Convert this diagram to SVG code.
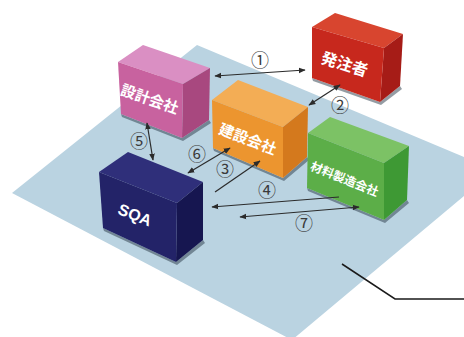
<svg xmlns="http://www.w3.org/2000/svg" width="464" height="337" viewBox="0 0 464 337">
<defs>
<marker id="ah" viewBox="0 0 10 10" refX="9" refY="5" markerWidth="7" markerHeight="7" orient="auto-start-reverse" markerUnits="userSpaceOnUse">
<path d="M0,1 L10,5 L0,9 z" fill="#2b2b2b"/>
</marker>
<style>
.lbl{font-family:"Noto Sans CJK JP","Noto Sans CJK SC",sans-serif;fill:#fff;font-weight:bold;text-anchor:middle;dominant-baseline:central}
.num{font-family:"Noto Sans CJK JP","DejaVu Sans",sans-serif;fill:#3a3a3a;font-size:18px;text-anchor:middle;dominant-baseline:central}
.con{stroke:#2b2b2b;stroke-width:1.2;fill:none}
.shadow{fill:#2a3a48;opacity:0.5}
</style>
</defs>
<rect width="464" height="337" fill="#ffffff"/>
<polygon points="197,45 495,170 292,340 12,193" fill="#bad3e1"/>
<polyline points="342,264 395,299 464,299" stroke="#1a1a1a" stroke-width="1.5" fill="none"/>

<g id="hacchusha">
<polygon class="shadow" points="312,78 380,102 400,86 402,89 381,105 313,81"/>
<polygon points="312,27 335,13 403,34 384,48" fill="#d8452f"/>
<polygon points="384,48 403,34 400,86 380,102" fill="#a61c17"/>
<polygon points="312,27 384,48 380,102 312,78" fill="#c7281d"/>
<text class="lbl" x="345" y="63" font-size="16" transform="rotate(17 345 63)">発注者</text>
</g>

<g id="sekkei">
<polygon class="shadow" points="121,114 182,138 209,120 211,123 183,141 122,117"/>
<polygon points="118,62 143,45 210,68 183,84" fill="#da8fc3"/>
<polygon points="183,84 210,68 209,120 182,138" fill="#a8487f"/>
<polygon points="118,62 183,84 182,138 121,114" fill="#c8629f"/>
<text class="lbl" x="150" y="98" font-size="15" transform="rotate(19 150 98)">設計会社</text>
</g>

<g id="kensetsu">
<polygon class="shadow" points="213,148 283,178 307,157 309,160 284,181 214,151"/>
<polygon points="212,100 238,80 308,107 283,127" fill="#f3ad55"/>
<polygon points="283,127 308,107 307,157 283,178" fill="#d4791d"/>
<polygon points="212,100 283,127 283,178 213,148" fill="#ec952f"/>
<text class="lbl" x="248" y="138" font-size="15" transform="rotate(21 248 138)">建設会社</text>
</g>

<g id="zairyo">
<polygon class="shadow" points="307,188 384,220 407,200 409,203 385,223 308,191"/>
<polygon points="308,133 330,117 409,146 384,163" fill="#7cc265"/>
<polygon points="384,163 409,146 407,200 384,220" fill="#3e9934"/>
<polygon points="308,133 384,163 384,220 307,188" fill="#5cae48"/>
<text class="lbl" x="345" y="178" font-size="12" transform="rotate(22 345 178)">材料製造会社</text>
</g>

<g id="sqa">
<polygon class="shadow" points="103,228 176,262 203,240 205,243 177,265 104,231"/>
<polygon points="99,172 128,152 203,182 177,203" fill="#2f2f7a"/>
<polygon points="177,203 203,182 203,240 176,262" fill="#161650"/>
<polygon points="99,172 177,203 176,262 103,228" fill="#232368"/>
<text class="lbl" x="135" y="215" font-size="16" style="font-family:'Liberation Sans',Arial,sans-serif" transform="rotate(22 135 215)">SQA</text>
</g>

<g id="connectors">
<line class="con" x1="215" y1="76" x2="305" y2="70" marker-start="url(#ah)" marker-end="url(#ah)"/>
<line class="con" x1="340" y1="85" x2="309" y2="105" marker-start="url(#ah)" marker-end="url(#ah)"/>
<line class="con" x1="147" y1="123" x2="153" y2="160" marker-start="url(#ah)" marker-end="url(#ah)"/>
<line class="con" x1="230" y1="148" x2="188" y2="173" marker-start="url(#ah)" marker-end="url(#ah)"/>
<line class="con" x1="215" y1="192" x2="260" y2="161" marker-end="url(#ah)"/>
<line class="con" x1="339" y1="197" x2="212" y2="207" marker-end="url(#ah)"/>
<line class="con" x1="240" y1="217" x2="359" y2="207" marker-start="url(#ah)" marker-end="url(#ah)"/>
<text class="num" x="260" y="59">①</text>
<text class="num" x="340" y="104">②</text>
<text class="num" x="225" y="168">③</text>
<text class="num" x="267" y="189">④</text>
<text class="num" x="139" y="140">⑤</text>
<text class="num" x="197" y="153">⑥</text>
<text class="num" x="304" y="222">⑦</text>
</g>
</svg>
